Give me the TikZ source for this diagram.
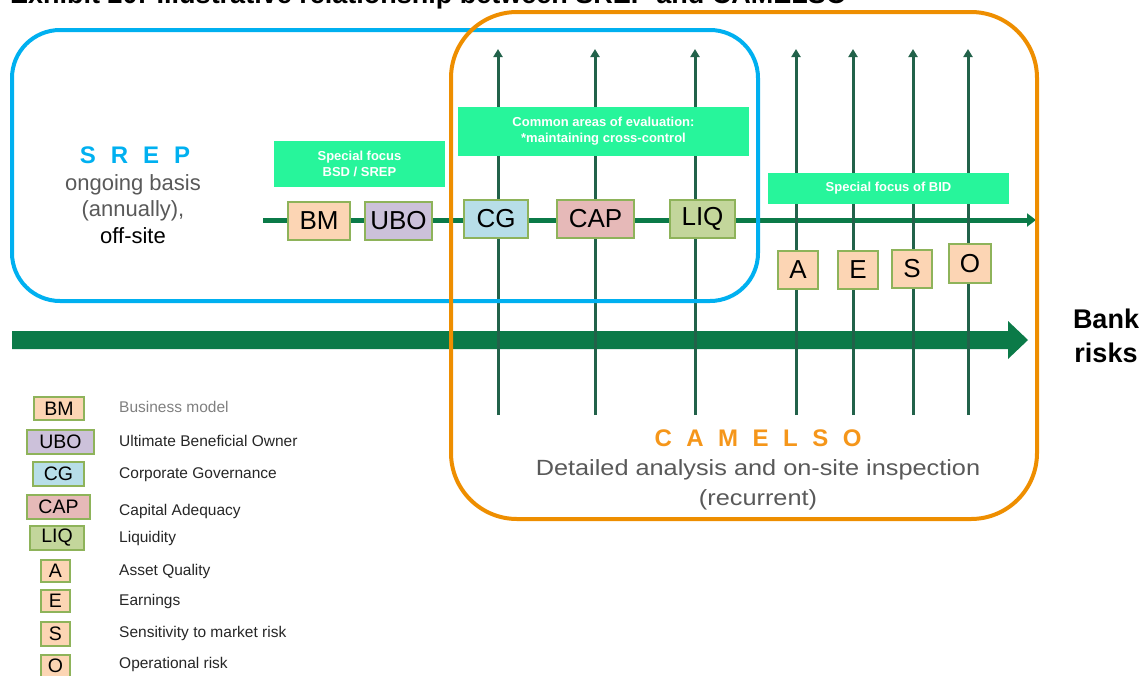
\documentclass[tikz,border=0pt]{standalone}
\usepackage{fontspec}
\setmainfont{Liberation Sans}
\newfontfamily\widesans[FakeStretch=1.15]{Liberation Sans}
\usetikzlibrary{arrows.meta}

\definecolor{srepblue}{HTML}{00B0F0}
\definecolor{camorange}{HTML}{EE8E00}
\definecolor{camtext}{HTML}{F5961A}
\definecolor{mint}{HTML}{27F59B}
\definecolor{axisgreen}{HTML}{0B7A48}
\definecolor{vgreen}{HTML}{22624A}
\definecolor{tagline}{HTML}{8EB35A}
\definecolor{peach}{HTML}{FCD5B4}
\definecolor{lavender}{HTML}{CCC1DA}
\definecolor{paleblue}{HTML}{B7DEE8}
\definecolor{rose}{HTML}{E6B9B8}
\definecolor{olive}{HTML}{C3D69B}
\definecolor{softgray}{HTML}{595959}
\definecolor{keygray}{HTML}{7F7F7F}
\definecolor{keydark}{HTML}{262626}

\tikzset{
  tagbox/.style={draw=tagline, line width=1.3pt, inner sep=0pt, text=black,
    font=\fontsize{26}{30}\selectfont},
  keybox/.style={draw=tagline, line width=1.1pt, inner sep=0pt, text=black,
    font=\fontsize{19.5}{21}\selectfont},
  keytext/.style={anchor=mid west, inner sep=0pt, text=keydark,
    font=\fontsize{15.5}{17}\selectfont},
  focus/.style={fill=mint, inner sep=0pt, align=center, text=white,
    font=\bfseries\fontsize{13}{16}\selectfont},
  vline/.style={draw=vgreen, line width=3pt, -{Triangle[width=9pt,length=8pt]}},
  axisline/.style={draw=axisgreen, line width=5pt, -{Triangle[width=13pt,length=9pt]}},
  frameline/.style={line width=4pt},
  plain/.style={inner sep=0pt, anchor=base}
}

\begin{document}
\begin{tikzpicture}[x=1pt,y=-1pt]
\useasboundingbox (0,0) rectangle (1146,675);
\clip (0,0) rectangle (1146,675);

% heading, partly above the page edge
\node[plain, anchor=base west, font=\bfseries\fontsize{27}{30}\selectfont] (title)
  at (10,3) {Exhibit 20: Illustrative relationship between SREP and CAMELSO};

% broad arrow of bank risks
\fill[axisgreen] (12,331) -- (1008,331) -- (1008,321) -- (1028,340)
  -- (1008,359) -- (1008,349) -- (12,349) -- cycle;

% thin evaluation axis
\coordinate (axL) at (263,220);
\coordinate (axR) at (1036,220);
\draw[axisline] (axL) -- (axR);

% vertical risk lines
\foreach \n/\x in {1/498,2/595,3/695,4/796,5/853,6/913,7/968}{
  \coordinate (vb\n) at (\x,415);
  \coordinate (vt\n) at (\x,49);
  \draw[vline] (vb\n) -- (vt\n);
}

% SREP and CAMELSO frames
\draw[frameline, draw=srepblue, rounded corners=48pt] (12,30) rectangle (758,301);
\draw[frameline, draw=camorange, rounded corners=66pt] (451,12) rectangle (1037,519);

% focus labels
\node[focus, minimum width=171pt, minimum height=46pt] (fbsd) at (359.5,164)
  {Special focus\\BSD / SREP};
\node[focus, minimum width=291pt, minimum height=49pt] (fcommon) at (603.5,131.5)
  {Common areas of evaluation:\\*maintaining cross-control};
\node[focus, minimum width=241pt, minimum height=31pt] (fbid) at (888.5,188.5)
  {Special focus of BID};

% risk areas on the axis
\node[tagbox, fill=peach,    minimum width=62pt, minimum height=38pt] (bm)  at (319,221)   {BM};
\node[tagbox, fill=lavender, minimum width=67pt, minimum height=38pt] (ubo) at (398.5,221) {UBO};
\node[tagbox, fill=paleblue, minimum width=64pt, minimum height=38pt] (cg)  at (496,219)   {CG};
\node[tagbox, fill=rose,     minimum width=77pt, minimum height=38pt] (cap) at (595.5,219) {CAP};
\node[tagbox, fill=olive,    minimum width=65pt, minimum height=38pt] (liq) at (702.5,219) {LIQ};
\node[tagbox, fill=peach,    minimum width=40pt, minimum height=38pt] (a)   at (798,270)   {A};
\node[tagbox, fill=peach,    minimum width=40pt, minimum height=38pt] (e)   at (858,270)   {E};
\node[tagbox, fill=peach,    minimum width=40pt, minimum height=38pt] (s)   at (912,269)   {S};
\node[tagbox, fill=peach,    minimum width=42pt, minimum height=39pt] (o)   at (970,263.5) {O};

% SREP caption
\node[plain, text=srepblue, font=\bfseries\fontsize{24}{26}\selectfont] (srep) at (135,163)
  {S\hspace{15pt}R\hspace{15pt}E\hspace{15pt}P};
\node[plain, text=softgray, font=\fontsize{22}{24}\selectfont] (srep1) at (133,190) {ongoing basis};
\node[plain, text=softgray, font=\fontsize{22}{24}\selectfont] (srep2) at (133,216) {(annually),};
\node[plain, text=black, font=\fontsize{22}{24}\selectfont] (srep3) at (133,243) {off-site};

% CAMELSO caption
\node[plain, text=camtext, font=\bfseries\fontsize{24}{26}\selectfont] (camelso) at (758,446)
  {C\hspace{14.5pt}A\hspace{14.5pt}M\hspace{14.5pt}E\hspace{14.5pt}L\hspace{14.5pt}S\hspace{14.5pt}O};
\node[plain, text=softgray, font=\widesans\fontsize{22}{24}\selectfont] (cam1) at (758,475)
  {Detailed analysis and on-site inspection};
\node[plain, text=softgray, font=\widesans\fontsize{22}{24}\selectfont] (cam2) at (758,505) {(recurrent)};

% axis caption
\node[plain, font=\bfseries\fontsize{27}{30}\selectfont] (bank) at (1106,328) {Bank};
\node[plain, font=\bfseries\fontsize{27}{30}\selectfont] (risks) at (1106,362) {risks};

% key
\node[keybox, fill=peach,    minimum width=50pt, minimum height=23pt] (kbm)  at (59,408.5) {BM};
\node[keybox, fill=lavender, minimum width=67pt, minimum height=24pt] (kubo) at (60.5,442) {UBO};
\node[keybox, fill=paleblue, minimum width=51pt, minimum height=24pt] (kcg)  at (58.5,474) {CG};
\node[keybox, fill=rose,     minimum width=63pt, minimum height=24pt] (kcap) at (58.5,507) {CAP};
\node[keybox, fill=olive,    minimum width=54pt, minimum height=24pt] (kliq) at (57,538)   {LIQ};
\node[keybox, fill=peach,    minimum width=29pt, minimum height=22pt] (ka)   at (55.5,571) {A};
\node[keybox, fill=peach,    minimum width=29pt, minimum height=22pt] (ke)   at (55.5,601) {E};
\node[keybox, fill=peach,    minimum width=29pt, minimum height=24pt] (ks)   at (55.5,634) {S};
\node[keybox, fill=peach,    minimum width=29pt, minimum height=22pt] (ko)   at (55.5,666) {O};

\node[keytext, text=keygray] (tbm) at (119,410) {Business model};
\node[keytext] (tubo) at (119,444) {Ultimate Beneficial Owner};
\node[keytext] (tcg)  at (119,476) {Corporate Governance};
\node[keytext] (tcap) at (119,513) {Capital Adequacy};
\node[keytext] (tliq) at (119,540) {Liquidity};
\node[keytext] (ta)   at (119,573) {Asset Quality};
\node[keytext] (te)   at (119,603) {Earnings};
\node[keytext] (ts)   at (119,635) {Sensitivity to market risk};
\node[keytext] (to)   at (119,666) {Operational risk};
\end{tikzpicture}
\end{document}
